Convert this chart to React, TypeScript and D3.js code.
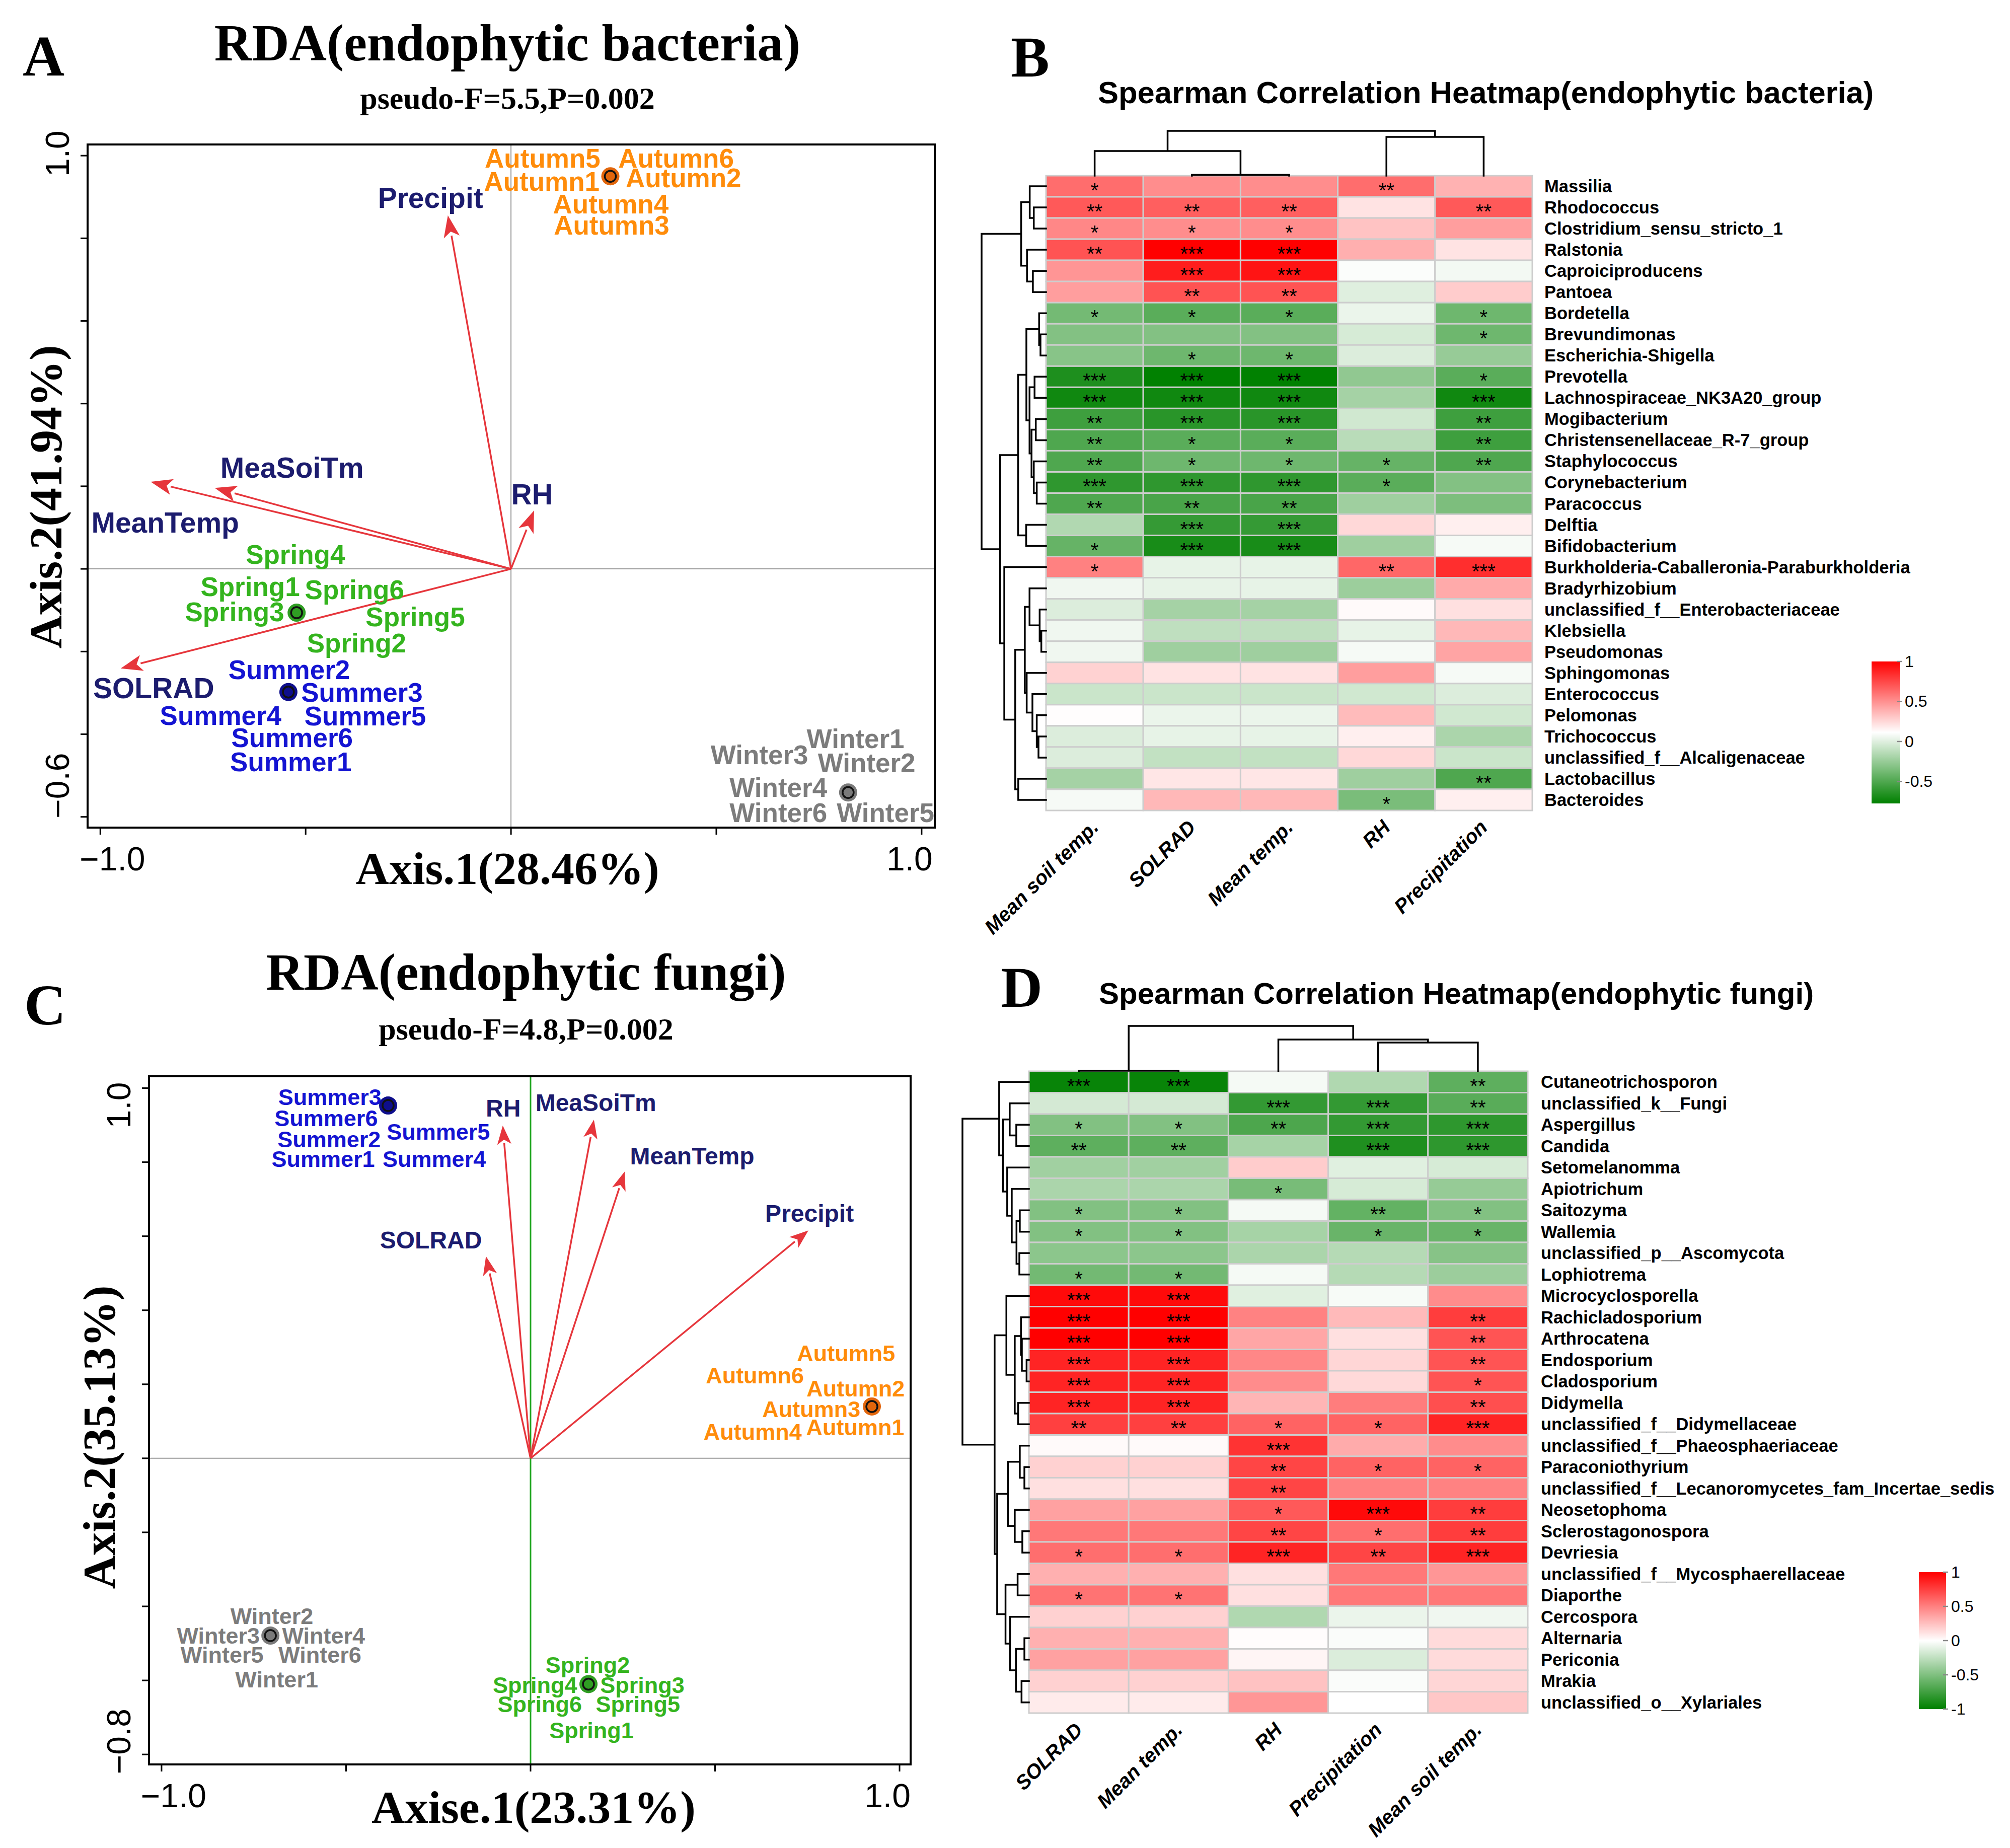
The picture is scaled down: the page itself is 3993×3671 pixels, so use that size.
import * as d3 from "d3";
import { useEffect, useRef } from "react";

const W = 3993;
const H = 3671;
const SANS = "'Liberation Sans', Arial, Helvetica, sans-serif";
const SERIF = "'Liberation Serif', 'Times New Roman', Times, serif";

// ---------------- RDA (endophytic bacteria) ----------------
const bactEnvNames = ["Precipit", "MeanTemp", "MeaSoiTm", "RH", "SOLRAD"];
const bactEnvX = [-0.153, -0.874, -0.718, 0.055, -0.947];
const bactEnvY = [0.852, 0.21, 0.195, 0.138, -0.24];
const bactEnvLabelX = [-0.196, -0.842, -0.533, 0.051, -0.87];
const bactEnvLabelY = [0.898, 0.112, 0.245, 0.18, -0.288];

const bactSampleNames = [
  "Autumn5", "Autumn6", "Autumn1", "Autumn2", "Autumn4", "Autumn3",
  "Spring4", "Spring1", "Spring6", "Spring3", "Spring5", "Spring2",
  "Summer2", "Summer3", "Summer4", "Summer5", "Summer6", "Summer1",
  "Winter1", "Winter3", "Winter2", "Winter4", "Winter6", "Winter5",
];
const bactSampleX = [
  0.077, 0.402, 0.075, 0.42, 0.243, 0.245,
  -0.525, -0.635, -0.381, -0.673, -0.233, -0.376,
  -0.54, -0.363, -0.707, -0.355, -0.533, -0.536,
  0.839, 0.605, 0.866, 0.651, 0.651, 0.912,
];
const bactSampleY = [
  0.993, 0.993, 0.938, 0.946, 0.883, 0.831,
  0.035, -0.043, -0.051, -0.104, -0.116, -0.179,
  -0.244, -0.299, -0.355, -0.356, -0.409, -0.467,
  -0.411, -0.45, -0.469, -0.529, -0.59, -0.59,
];
const bactCentroidSeason = ["Autumn", "Spring", "Summer", "Winter"];
const bactCentroidX = [0.242, -0.522, -0.542, 0.821];
const bactCentroidY = [0.95, -0.106, -0.298, -0.541];

// ---------------- RDA (endophytic fungi) ----------------
const fungEnvNames = ["RH", "MeaSoiTm", "MeanTemp", "Precipit", "SOLRAD"];
const fungEnvX = [-0.075, 0.171, 0.254, 0.75, -0.12];
const fungEnvY = [0.895, 0.911, 0.771, 0.613, 0.542];
const fungEnvLabelX = [-0.074, 0.177, 0.438, 0.756, -0.27];
const fungEnvLabelY = [0.945, 0.961, 0.816, 0.661, 0.59];

const fungSampleNames = [
  "Summer3", "Summer6", "Summer5", "Summer2", "Summer1", "Summer4",
  "Autumn5", "Autumn6", "Autumn2", "Autumn3", "Autumn4", "Autumn1",
  "Winter2", "Winter3", "Winter4", "Winter5", "Winter6", "Winter1",
  "Spring2", "Spring4", "Spring3", "Spring6", "Spring5", "Spring1",
];
const fungSampleX = [
  -0.544, -0.554, -0.25, -0.546, -0.562, -0.261,
  0.855, 0.608, 0.881, 0.761, 0.602, 0.88,
  -0.701, -0.846, -0.561, -0.836, -0.571, -0.688,
  0.155, 0.012, 0.303, 0.025, 0.291, 0.165,
];
const fungSampleY = [
  0.976, 0.918, 0.882, 0.862, 0.808, 0.808,
  0.283, 0.223, 0.188, 0.133, 0.071, 0.084,
  -0.427, -0.479, -0.479, -0.531, -0.531, -0.598,
  -0.559, -0.613, -0.613, -0.665, -0.665, -0.735,
];
const fungCentroidSeason = ["Summer", "Autumn", "Winter", "Spring"];
const fungCentroidX = [-0.386, 0.925, -0.705, 0.157];
const fungCentroidY = [0.953, 0.14, -0.479, -0.61];

const seasonText: Record<string, string> = {
  Spring: "#34B41E", Summer: "#1414D2", Autumn: "#FF8C0A", Winter: "#7C7C7C",
};
const seasonFill: Record<string, string> = {
  Spring: "#2F9E23", Summer: "#0E0E8C", Autumn: "#E2660C", Winter: "#7A7A7A",
};

// ---------------- Heatmap (endophytic bacteria) ----------------
const bactVars = ["Mean soil temp.", "SOLRAD", "Mean temp.", "RH", "Precipitation"];
const bactTaxa = [
  "Massilia", "Rhodococcus", "Clostridium_sensu_stricto_1", "Ralstonia", "Caproiciproducens",
  "Pantoea", "Bordetella", "Brevundimonas", "Escherichia-Shigella", "Prevotella",
  "Lachnospiraceae_NK3A20_group", "Mogibacterium", "Christensenellaceae_R-7_group", "Staphylococcus",
  "Corynebacterium", "Paracoccus", "Delftia", "Bifidobacterium",
  "Burkholderia-Caballeronia-Paraburkholderia", "Bradyrhizobium", "unclassified_f__Enterobacteriaceae",
  "Klebsiella", "Pseudomonas", "Sphingomonas", "Enterococcus", "Pelomonas", "Trichococcus",
  "unclassified_f__Alcaligenaceae", "Lactobacillus", "Bacteroides",
];
const bactValues = [
  [0.62, 0.51, 0.51, 0.62, 0.38],
  [0.69, 0.67, 0.67, 0.21, 0.69],
  [0.53, 0.51, 0.51, 0.32, 0.45],
  [0.71, 1.0, 1.0, 0.39, 0.21],
  [0.48, 0.9, 0.93, 0.1, 0.07],
  [0.45, 0.71, 0.71, 0.0, 0.29],
  [-0.37, -0.46, -0.46, 0.045, -0.39],
  [-0.32, -0.32, -0.32, -0.03, -0.39],
  [-0.3, -0.39, -0.39, -0.01, -0.25],
  [-0.67, -0.77, -0.77, -0.27, -0.46],
  [-0.72, -0.72, -0.72, -0.2, -0.72],
  [-0.56, -0.63, -0.63, -0.05, -0.56],
  [-0.5, -0.46, -0.46, -0.13, -0.56],
  [-0.5, -0.39, -0.39, -0.42, -0.5],
  [-0.61, -0.61, -0.61, -0.46, -0.32],
  [-0.5, -0.52, -0.52, -0.22, -0.34],
  [-0.16, -0.59, -0.59, 0.25, 0.17],
  [-0.42, -0.69, -0.69, -0.22, 0.08],
  [0.55, 0.03, 0.03, 0.64, 0.84],
  [0.06, 0.03, 0.03, -0.23, 0.41],
  [-0.01, -0.2, -0.2, 0.13, 0.22],
  [0.06, -0.11, -0.11, 0.03, 0.36],
  [0.06, -0.22, -0.22, 0.08, 0.43],
  [0.27, 0.21, 0.21, 0.45, 0.08],
  [-0.07, -0.07, -0.07, -0.05, -0.01],
  [0.12, 0.045, 0.045, 0.35, -0.05],
  [-0.01, 0.03, 0.03, 0.17, -0.18],
  [-0.01, -0.1, -0.1, 0.25, -0.07],
  [-0.2, 0.2, 0.2, -0.22, -0.5],
  [0.08, 0.36, 0.36, -0.35, 0.17],
];
const bactStars = [
  ["*", "", "", "**", ""],
  ["**", "**", "**", "", "**"],
  ["*", "*", "*", "", ""],
  ["**", "***", "***", "", ""],
  ["", "***", "***", "", ""],
  ["", "**", "**", "", ""],
  ["*", "*", "*", "", "*"],
  ["", "", "", "", "*"],
  ["", "*", "*", "", ""],
  ["***", "***", "***", "", "*"],
  ["***", "***", "***", "", "***"],
  ["**", "***", "***", "", "**"],
  ["**", "*", "*", "", "**"],
  ["**", "*", "*", "*", "**"],
  ["***", "***", "***", "*", ""],
  ["**", "**", "**", "", ""],
  ["", "***", "***", "", ""],
  ["*", "***", "***", "", ""],
  ["*", "", "", "**", "***"],
  ["", "", "", "", ""],
  ["", "", "", "", ""],
  ["", "", "", "", ""],
  ["", "", "", "", ""],
  ["", "", "", "", ""],
  ["", "", "", "", ""],
  ["", "", "", "", ""],
  ["", "", "", "", ""],
  ["", "", "", "", ""],
  ["", "", "", "", "**"],
  ["", "", "", "*", ""],
];
// trees: leaf = row/column index, node = [left, right, height]
const bactRowTree: any = [
  [[0, [1, 2, 0.19], 0.253], [3, [4, 5, 0.204], 0.295], 0.386],
  [
    [
      [[6, [7, 8, 0.086], 0.107],
        [[9, 10, 0.178], [[11, 12, 0.159], [13, [14, 15, 0.144], 0.19], 0.225], 0.256], 0.305],
      [16, 17, 0.308], 0.433],
    [18,
      [[[19, [20, [21, 22, 0.073], 0.099], 0.256],
        [23, [24, [25, [26, 27, 0.117], 0.144], 0.211], 0.3], 0.329],
        [28, 29, 0.431], 0.478], 0.648],
    0.713],
  1.0,
];
const bactColTree: any = [[0, [1, 2, 0.02], 0.55], [3, 4, 0.865], 1.0];

// ---------------- Heatmap (endophytic fungi) ----------------
const fungVars = ["SOLRAD", "Mean temp.", "RH", "Precipitation", "Mean soil temp."];
const fungTaxa = [
  "Cutaneotrichosporon", "unclassified_k__Fungi", "Aspergillus", "Candida", "Setomelanomma",
  "Apiotrichum", "Saitozyma", "Wallemia", "unclassified_p__Ascomycota", "Lophiotrema",
  "Microcyclosporella", "Rachicladosporium", "Arthrocatena", "Endosporium", "Cladosporium",
  "Didymella", "unclassified_f__Didymellaceae", "unclassified_f__Phaeosphaeriaceae", "Paraconiothyrium",
  "unclassified_f__Lecanoromycetes_fam_Incertae_sedis", "Neosetophoma", "Sclerostagonospora", "Devriesia",
  "unclassified_f__Mycosphaerellaceae", "Diaporthe", "Cercospora", "Alternaria", "Periconia", "Mrakia",
  "unclassified_o__Xylariales",
];
const fungValues = [
  [-0.97, -0.97, -0.04, -0.31, -0.63],
  [-0.17, -0.17, -0.8, -0.8, -0.65],
  [-0.49, -0.49, -0.7, -0.8, -0.82],
  [-0.63, -0.63, -0.35, -0.88, -0.82],
  [-0.37, -0.37, 0.2, -0.12, -0.16],
  [-0.33, -0.33, -0.53, -0.16, -0.41],
  [-0.49, -0.49, -0.04, -0.61, -0.49],
  [-0.49, -0.49, -0.35, -0.59, -0.59],
  [-0.45, -0.45, -0.33, -0.29, -0.47],
  [-0.55, -0.55, -0.04, -0.29, -0.39],
  [0.96, 0.96, -0.12, -0.03, 0.45],
  [1.0, 1.0, 0.49, 0.27, 0.76],
  [1.0, 1.0, 0.35, 0.12, 0.67],
  [0.86, 0.86, 0.47, 0.16, 0.67],
  [0.86, 0.86, 0.45, 0.15, 0.67],
  [0.86, 0.86, 0.29, 0.51, 0.69],
  [0.75, 0.75, 0.61, 0.61, 0.86],
  [0.02, 0.02, 0.8, 0.33, 0.45],
  [0.18, 0.18, 0.73, 0.61, 0.61],
  [0.12, 0.12, 0.73, 0.49, 0.49],
  [0.37, 0.37, 0.65, 0.96, 0.76],
  [0.53, 0.53, 0.73, 0.57, 0.76],
  [0.57, 0.57, 0.86, 0.73, 0.86],
  [0.31, 0.31, 0.12, 0.53, 0.41],
  [0.55, 0.55, 0.12, 0.53, 0.53],
  [0.18, 0.18, -0.31, -0.08, -0.06],
  [0.31, 0.31, 0.01, -0.02, 0.14],
  [0.37, 0.37, 0.04, -0.14, 0.14],
  [0.18, 0.18, 0.24, -0.02, 0.16],
  [0.08, 0.08, 0.41, 0.0, 0.22],
];
const fungStars = [
  ["***", "***", "", "", "**"],
  ["", "", "***", "***", "**"],
  ["*", "*", "**", "***", "***"],
  ["**", "**", "", "***", "***"],
  ["", "", "", "", ""],
  ["", "", "*", "", ""],
  ["*", "*", "", "**", "*"],
  ["*", "*", "", "*", "*"],
  ["", "", "", "", ""],
  ["*", "*", "", "", ""],
  ["***", "***", "", "", ""],
  ["***", "***", "", "", "**"],
  ["***", "***", "", "", "**"],
  ["***", "***", "", "", "**"],
  ["***", "***", "", "", "*"],
  ["***", "***", "", "", "**"],
  ["**", "**", "*", "*", "***"],
  ["", "", "***", "", ""],
  ["", "", "**", "*", "*"],
  ["", "", "**", "", ""],
  ["", "", "*", "***", "**"],
  ["", "", "**", "*", "**"],
  ["*", "*", "***", "**", "***"],
  ["", "", "", "", ""],
  ["*", "*", "", "", ""],
  ["", "", "", "", ""],
  ["", "", "", "", ""],
  ["", "", "", "", ""],
  ["", "", "", "", ""],
  ["", "", "", "", ""],
];
const fungRowTree: any = [
  [0,
    [[1, [2, 3, 0.19], 0.289],
      [4, [5, [[6, 7, 0.137], [8, 9, 0.144], 0.187], 0.258], 0.327], 0.392],
    0.448],
  [
    [10, [[11, [12, [13, 14, 0.035], 0.106], 0.119], [15, 16, 0.162], 0.213], 0.339],
    [
      [[17, [18, 19, 0.068], 0.137], [20, [21, 22, 0.099], 0.213], 0.314],
      [[23, 24, 0.17], [25, [[26, 27, 0.068], [28, 29, 0.111], 0.195], 0.284], 0.352],
      0.478],
    0.516],
  1.0,
];
const fungColTree: any = [[0, 1, 0.01], [2, [3, 4, 0.633], 0.7], 1.0];

// ------------------------------------------------------------
function drawRDA(root: any, o: any) {
  const g = root.append("g");
  const x = d3.scaleLinear().domain(o.xlim).range([o.left, o.right]);
  const y = d3.scaleLinear().domain(o.ylim).range([o.bottom, o.top]);

  // letter, titles
  g.append("text").attr("x", o.letterX).attr("y", o.letterY).attr("font-family", SERIF)
    .attr("font-weight", "bold").attr("font-size", 115).text(o.letter);
  g.append("text").attr("x", o.titleX).attr("y", o.titleY).attr("text-anchor", "middle")
    .attr("font-family", SERIF).attr("font-weight", "bold").attr("font-size", 103).text(o.title);
  g.append("text").attr("x", o.titleX).attr("y", o.subY).attr("text-anchor", "middle")
    .attr("font-family", SERIF).attr("font-weight", "bold").attr("font-size", 62).text(o.sub);

  // zero lines
  g.append("line").attr("x1", o.left).attr("x2", o.right).attr("y1", y(0)).attr("y2", y(0))
    .attr("stroke", "#9a9a9a").attr("stroke-width", 2);
  g.append("line").attr("x1", x(0)).attr("x2", x(0)).attr("y1", o.top).attr("y2", o.bottom)
    .attr("stroke", o.vColor).attr("stroke-width", o.vWidth);

  // arrows
  const col = "#E6363C";
  o.envX.forEach((ex: number, i: number) => {
    const x0 = x(0), y0 = y(0), x1 = x(ex), y1 = y(o.envY[i]);
    const ang = Math.atan2(y1 - y0, x1 - x0);
    const L = o.headL, Wd = o.headW;
    const bx = x1 - L * Math.cos(ang), by = y1 - L * Math.sin(ang);
    g.append("line").attr("x1", x0).attr("y1", y0).attr("x2", bx).attr("y2", by)
      .attr("stroke", col).attr("stroke-width", 3.5);
    const px = -Math.sin(ang), py = Math.cos(ang);
    g.append("path")
      .attr("d", `M${x1},${y1}L${bx + px * Wd},${by + py * Wd}L${bx + (x1 - bx) * 0.25},${by + (y1 - by) * 0.25}L${bx - px * Wd},${by - py * Wd}Z`)
      .attr("fill", col).attr("stroke", col).attr("stroke-width", 2);
  });
  g.selectAll("text.env").data(o.envNames).join("text").attr("class", "env")
    .attr("x", (_: any, i: number) => x(o.envLX[i])).attr("y", (_: any, i: number) => y(o.envLY[i]))
    .attr("text-anchor", "middle").attr("dominant-baseline", "central")
    .attr("font-family", SANS).attr("font-weight", "bold").attr("font-size", o.envFont)
    .attr("fill", "#1C1C6E").text((d: string) => d);

  // sample labels
  g.selectAll("text.smp").data(o.sNames).join("text").attr("class", "smp")
    .attr("x", (_: any, i: number) => x(o.sX[i])).attr("y", (_: any, i: number) => y(o.sY[i]))
    .attr("text-anchor", "middle").attr("dominant-baseline", "central")
    .attr("font-family", SANS).attr("font-weight", "bold").attr("font-size", o.sFont)
    .attr("fill", (d: string) => seasonText[d.replace(/\d+$/, "")]).text((d: string) => d);

  // centroids
  o.cSeason.forEach((s: string, i: number) => {
    g.append("circle").attr("cx", x(o.cX[i])).attr("cy", y(o.cY[i])).attr("r", 18)
      .attr("fill", seasonFill[s]);
    g.append("circle").attr("cx", x(o.cX[i])).attr("cy", y(o.cY[i])).attr("r", 11)
      .attr("fill", "none").attr("stroke", "#111").attr("stroke-width", 3.5);
  });

  // frame
  g.append("rect").attr("x", o.left).attr("y", o.top).attr("width", o.right - o.left)
    .attr("height", o.bottom - o.top).attr("fill", "none").attr("stroke", "#000").attr("stroke-width", 4);

  // ticks
  g.selectAll("line.xt").data(o.xTicks).join("line").attr("class", "xt")
    .attr("x1", (d: number) => x(d)).attr("x2", (d: number) => x(d))
    .attr("y1", o.bottom).attr("y2", o.bottom + 14).attr("stroke", "#000").attr("stroke-width", 3);
  g.selectAll("line.yt").data(o.yTicks).join("line").attr("class", "yt")
    .attr("y1", (d: number) => y(d)).attr("y2", (d: number) => y(d))
    .attr("x1", o.left).attr("x2", o.left - 14).attr("stroke", "#000").attr("stroke-width", 3);
  const fmt = (v: number) => (v < 0 ? "\u2212" : "") + Math.abs(v).toFixed(1);
  [-1, 1].forEach((v: number) => {
    g.append("text").attr("x", x(v) - Math.sign(v) * 24).attr("y", o.bottom + 85)
      .attr("text-anchor", "middle").attr("font-family", SANS).attr("font-size", 66).text(fmt(v));
  });
  o.yLabels.forEach((v: number, i: number) => {
    const yy = y(v) + o.yLabelShift[i];
    g.append("text").attr("transform", `translate(${o.left - 37},${yy}) rotate(-90)`)
      .attr("text-anchor", "middle").attr("font-family", SANS).attr("font-size", 66).text(fmt(v));
  });

  // axis titles
  g.append("text").attr("x", o.xTitleX).attr("y", o.xTitleY).attr("text-anchor", "middle")
    .attr("font-family", SERIF).attr("font-weight", "bold").attr("font-size", 92).text(o.xTitle);
  g.append("text").attr("transform", `translate(${o.yTitleX},${o.yTitleY}) rotate(-90)`)
    .attr("text-anchor", "middle").attr("font-family", SERIF).attr("font-weight", "bold")
    .attr("font-size", 92).text(o.yTitle);
}

function drawTree(g: any, tree: any, leafPos: (i: number) => number, hs: any, rows: boolean) {
  const p = d3.path();
  const seg = (a: number, b: number, c: number, d: number) => {
    if (rows) { p.moveTo(a, b); p.lineTo(c, d); } else { p.moveTo(b, a); p.lineTo(d, c); }
  };
  const rec = (t: any): { pos: number; h: number } => {
    if (typeof t === "number") return { pos: leafPos(t), h: 0 };
    const a = rec(t[0]);
    const b = rec(t[1]);
    const v = hs(t[2]);
    seg(v, a.pos, v, b.pos);
    seg(v, a.pos, hs(a.h), a.pos);
    seg(v, b.pos, hs(b.h), b.pos);
    return { pos: (a.pos + b.pos) / 2, h: t[2] };
  };
  rec(tree);
  g.append("path").attr("d", p.toString()).attr("fill", "none").attr("stroke", "#000")
    .attr("stroke-width", 3.5).attr("stroke-linecap", "square");
}

function drawHeatmap(root: any, o: any) {
  const g = root.append("g");
  const nR = o.taxa.length, nC = o.vars.length;
  const xb = d3.scaleBand().domain(d3.range(nC) as any).range([o.left, o.right]);
  const yb = d3.scaleBand().domain(d3.range(nR) as any).range([o.top, o.bottom]);
  const color = d3.scaleLinear<string>().domain(o.colorDomain).range(["#008000", "#ffffff", "#ff0000"])
    .interpolate(d3.interpolateRgb).clamp(true);

  g.append("text").attr("x", o.letterX).attr("y", o.letterY).attr("font-family", SERIF)
    .attr("font-weight", "bold").attr("font-size", 115).text(o.letter);
  g.append("text").attr("x", o.titleX).attr("y", o.titleY).attr("font-family", SANS)
    .attr("font-weight", "bold").attr("font-size", o.titleFont).text(o.title);

  const cells: any[] = [];
  o.values.forEach((row: number[], r: number) => row.forEach((v, c) => cells.push({ r, c, v, s: o.stars[r][c] })));
  g.selectAll("rect.cell").data(cells).join("rect").attr("class", "cell")
    .attr("x", (d: any) => xb(d.c)).attr("y", (d: any) => yb(d.r))
    .attr("width", xb.bandwidth()).attr("height", yb.bandwidth())
    .attr("fill", (d: any) => color(d.v)).attr("stroke", "#CDCDCD").attr("stroke-width", 3);
  g.selectAll("text.star").data(cells.filter((d) => d.s)).join("text").attr("class", "star")
    .attr("x", (d: any) => xb(d.c)! + xb.bandwidth() / 2)
    .attr("y", (d: any) => yb(d.r)! + yb.bandwidth() / 2 + 22)
    .attr("text-anchor", "middle").attr("font-family", SANS).attr("font-size", 40)
    .attr("letter-spacing", 0).text((d: any) => d.s);

  // row labels
  g.selectAll("text.row").data(o.taxa).join("text").attr("class", "row")
    .attr("x", o.labelX).attr("y", (_: any, i: number) => yb(i)! + yb.bandwidth() / 2)
    .attr("dominant-baseline", "central").attr("font-family", SANS).attr("font-weight", "bold")
    .attr("font-size", 34.5).text((d: string) => d);
  // column labels
  g.selectAll("text.col").data(o.vars).join("text").attr("class", "col")
    .attr("transform", (_: any, i: number) =>
      `translate(${xb(i)! + xb.bandwidth() / 2 + 10},${o.bottom + 36}) rotate(-45)`)
    .attr("text-anchor", "end").attr("font-family", SANS).attr("font-weight", "bold")
    .attr("font-style", "italic").attr("font-size", 40).text((d: string) => d);

  // dendrograms
  drawTree(g, o.rowTree, (i) => yb(i)! + yb.bandwidth() / 2,
    d3.scaleLinear().domain([0, 1]).range([o.left, o.rowRootX]), true);
  drawTree(g, o.colTree, (i) => xb(i)! + xb.bandwidth() / 2,
    d3.scaleLinear().domain([0, 1]).range([o.top, o.colRootY]), false);

  // legend
  const ly = d3.scaleLinear().domain([o.legLo, o.legHi]).range([o.legBottom, o.legTop]);
  const gid = "grad" + o.letter;
  const grad = root.append("defs").append("linearGradient").attr("id", gid)
    .attr("x1", 0).attr("x2", 0).attr("y1", 1).attr("y2", 0);
  d3.range(0, 1.0001, 0.05).forEach((t: number) => {
    grad.append("stop").attr("offset", t).attr("stop-color", color(o.legLo + t * (o.legHi - o.legLo)));
  });
  g.append("rect").attr("x", o.legLeft).attr("y", o.legTop).attr("width", o.legW)
    .attr("height", o.legBottom - o.legTop).attr("fill", `url(#${gid})`);
  g.selectAll("line.lt").data(o.legTicks).join("line").attr("class", "lt")
    .attr("x1", o.legLeft + o.legW - 6).attr("x2", o.legLeft + o.legW + 4)
    .attr("y1", (d: number) => ly(d)).attr("y2", (d: number) => ly(d))
    .attr("stroke", "#888").attr("stroke-width", 2.5);
  g.selectAll("text.lt").data(o.legTicks).join("text").attr("class", "lt")
    .attr("x", o.legLeft + o.legW + 10).attr("y", (d: number) => ly(d))
    .attr("dominant-baseline", "central").attr("font-family", SANS).attr("font-size", 32)
    .text((d: number) => String(d));
}

export default function App() {
  const ref = useRef<SVGSVGElement | null>(null);

  useEffect(() => {
    document.body.style.margin = "0";
    const svg = d3.select(ref.current);
    svg.selectAll("*").remove();
    svg.append("rect").attr("width", W).attr("height", H).attr("fill", "#fff");

    drawRDA(svg, {
      letter: "A", letterX: 45, letterY: 150,
      title: "RDA(endophytic bacteria)", titleX: 1008, titleY: 120,
      sub: "pseudo-F=5.5,P=0.002", subY: 216,
      left: 174, right: 1857, top: 287, bottom: 1644,
      xlim: [-1.031, 1.032], ylim: [-0.626, 1.027],
      xTicks: [-1, -0.5, 0, 0.5, 1], yTicks: d3.range(-0.6, 1.0001, 0.2),
      yLabels: [1.0, -0.6], yLabelShift: [-4, -62],
      vColor: "#9a9a9a", vWidth: 2,
      envNames: bactEnvNames, envX: bactEnvX, envY: bactEnvY, envLX: bactEnvLabelX, envLY: bactEnvLabelY,
      envFont: 57, headL: 38, headW: 14,
      sNames: bactSampleNames, sX: bactSampleX, sY: bactSampleY, sFont: 53,
      cSeason: bactCentroidSeason, cX: bactCentroidX, cY: bactCentroidY,
      xTitle: "Axis.1(28.46%)", xTitleX: 1008, xTitleY: 1756,
      yTitle: "Axis.2(41.94%)", yTitleX: 122, yTitleY: 987,
    });

    drawRDA(svg, {
      letter: "C", letterX: 48, letterY: 2035,
      title: "RDA(endophytic fungi)", titleX: 1045, titleY: 1966,
      sub: "pseudo-F=4.8,P=0.002", subY: 2065,
      left: 296, right: 1809, top: 2138, bottom: 3505,
      xlim: [-1.034, 1.03], ylim: [-0.827, 1.032],
      xTicks: [-1, -0.5, 0, 0.5, 1], yTicks: d3.range(-0.8, 1.0001, 0.2),
      yLabels: [1.0, -0.8], yLabelShift: [34, -26],
      vColor: "#1FA51F", vWidth: 3,
      envNames: fungEnvNames, envX: fungEnvX, envY: fungEnvY, envLX: fungEnvLabelX, envLY: fungEnvLabelY,
      envFont: 48, headL: 32, headW: 12,
      sNames: fungSampleNames, sX: fungSampleX, sY: fungSampleY, sFont: 45,
      cSeason: fungCentroidSeason, cX: fungCentroidX, cY: fungCentroidY,
      xTitle: "Axise.1(23.31%)", xTitleX: 1060, xTitleY: 3621,
      yTitle: "Axis.2(35.13%)", yTitleX: 228, yTitleY: 2855,
    });

    drawHeatmap(svg, {
      letter: "B", letterX: 2008, letterY: 152,
      title: "Spearman Correlation Heatmap(endophytic bacteria)", titleX: 2181, titleY: 205, titleFont: 61.5,
      taxa: bactTaxa, vars: bactVars, values: bactValues, stars: bactStars,
      rowTree: bactRowTree, colTree: bactColTree,
      left: 2078, right: 3044, top: 349, bottom: 1610, rowRootX: 1950, colRootY: 260,
      labelX: 3068, colorDomain: [-0.774, 0.113, 1],
      legLo: -0.774, legHi: 1, legTop: 1314, legBottom: 1596, legLeft: 3718, legW: 56,
      legTicks: [1, 0.5, 0, -0.5],
    });

    drawHeatmap(svg, {
      letter: "D", letterX: 1988, letterY: 2000,
      title: "Spearman Correlation Heatmap(endophytic fungi)", titleX: 2183, titleY: 1994, titleFont: 60,
      taxa: fungTaxa, vars: fungVars, values: fungValues, stars: fungStars,
      rowTree: fungRowTree, colTree: fungColTree,
      left: 2044, right: 3035, top: 2128, bottom: 3403, rowRootX: 1912, colRootY: 2038,
      labelX: 3061, colorDomain: [-1, 0, 1],
      legLo: -1, legHi: 1, legTop: 3123, legBottom: 3395, legLeft: 3812, legW: 54,
      legTicks: [1, 0.5, 0, -0.5, -1],
    });
  }, []);

  return <svg ref={ref} width={W} height={H} style={{ display: "block" }} />;
}
